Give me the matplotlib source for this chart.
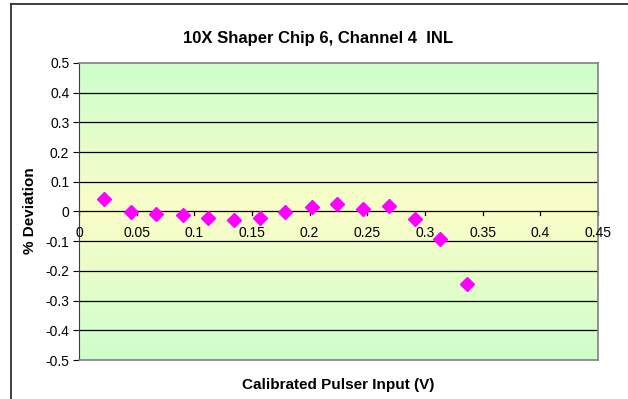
import numpy as np
import matplotlib.pyplot as plt
from matplotlib.colors import LinearSegmentedColormap
from matplotlib.lines import Line2D

# Pulser input (V) and INL deviation (%)
pulser_v = [0.022, 0.045, 0.067, 0.090, 0.112, 0.134, 0.157, 0.179,
            0.202, 0.224, 0.246, 0.269, 0.291, 0.313, 0.336]
deviation = [0.042, -0.003, -0.009, -0.011, -0.022, -0.030, -0.023, -0.002,
             0.014, 0.026, 0.008, 0.018, -0.024, -0.094, -0.244]

x_ticks = [0, 0.05, 0.1, 0.15, 0.2, 0.25, 0.3, 0.35, 0.4, 0.45]
x_labels = ["0", "0.05", "0.1", "0.15", "0.2", "0.25", "0.3", "0.35", "0.4", "0.45"]
y_ticks = [-0.5, -0.4, -0.3, -0.2, -0.1, 0, 0.1, 0.2, 0.3, 0.4, 0.5]
y_labels = ["-0.5", "-0.4", "-0.3", "-0.2", "-0.1", "0", "0.1", "0.2", "0.3", "0.4", "0.5"]

plt.rcParams['font.family'] = ['Liberation Sans', 'DejaVu Sans']

fig = plt.figure(figsize=(6.28, 3.99), dpi=100)
ax = fig.add_axes([79 / 628, 1 - 360 / 399, 519 / 628, 297 / 399])

# green -> yellow -> green background
cmap = LinearSegmentedColormap.from_list("bg", ["#CCFFCC", "#FAFDC8", "#CCFFCC"])
grad = np.linspace(0, 1, 256).reshape(-1, 1)
ax.imshow(grad, cmap=cmap, aspect="auto", extent=[0, 1, 0, 1],
          transform=ax.transAxes, zorder=0)

ax.set_xlim(0, 0.45)
ax.set_ylim(-0.5, 0.5)

for y in y_ticks[1:-1]:
    ax.axhline(y, color="black", lw=0.9, zorder=1)

ax.plot(pulser_v, deviation, linestyle="none", marker="D", ms=7,
        color="#FF00FF", zorder=3, clip_on=False)

for side in ["top", "right", "bottom"]:
    ax.spines[side].set_color("#808080")
    ax.spines[side].set_linewidth(1.2)
ax.spines["left"].set_color("#404040")

ax.set_yticks(y_ticks)
ax.set_yticklabels(y_labels, fontsize=10)
ax.tick_params(axis="y", direction="out", length=4, width=0.8, pad=3)

# x ticks hang from the zero line
ax.set_xticks([])
for xv, lab in zip(x_ticks, x_labels):
    ax.plot([xv, xv], [0, -0.013], color="black", lw=0.9, zorder=2, clip_on=False)
    ax.text(xv, -0.072, lab, ha="center", va="center", fontsize=10, zorder=4)

fig.text(318 / 628, 1 - 38 / 399, "10X Shaper Chip 6, Channel 4  INL",
         ha="center", va="center", fontsize=12, fontweight="bold")
fig.text(30 / 628, 1 - 211 / 399, "% Deviation", rotation=90,
         ha="center", va="center", fontsize=11, fontweight="bold")
fig.text(338 / 628, 1 - 385 / 399, "Calibrated Pulser Input (V)",
         ha="center", va="center", fontsize=11, fontweight="bold")

# chart area frame
fig.add_artist(Line2D([11 / 628, 11 / 628], [0, 1 - 4 / 399],
                      transform=fig.transFigure, color="#303030", lw=1.3))
fig.add_artist(Line2D([11 / 628, 1], [1 - 4 / 399, 1 - 4 / 399],
                      transform=fig.transFigure, color="#303030", lw=1.3))

fig.savefig("out.png", dpi=100)
